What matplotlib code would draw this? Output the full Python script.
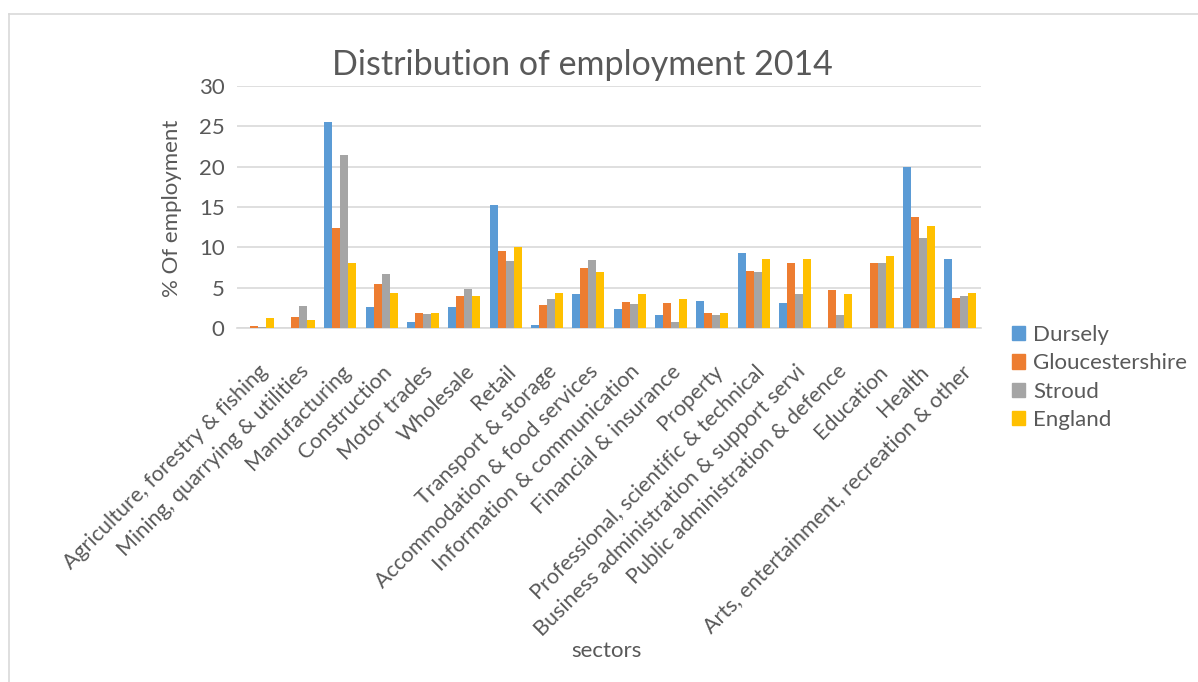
import matplotlib
matplotlib.use("Agg")
import matplotlib.pyplot as plt
import numpy as np
from matplotlib.lines import Line2D
from matplotlib.patches import Rectangle

plt.rcParams['font.family'] = ['Lato', 'DejaVu Sans']

sectors = ["Agriculture, forestry & fishing", "Mining, quarrying & utilities",
           "Manufacturing", "Construction", "Motor trades", "Wholesale", "Retail",
           "Transport & storage", "Accommodation & food services",
           "Information & communication", "Financial & insurance", "Property",
           "Professional, scientific & technical",
           "Business administration & support servi",
           "Public administration & defence", "Education", "Health",
           "Arts, entertainment, recreation & other"]

dursely = [0.0, 0.0, 25.5, 2.6, 0.7, 2.6, 15.3, 0.4, 4.2, 2.4, 1.6, 3.4, 9.3, 3.1, 0.0, 0.0, 19.9, 8.5]
gloucestershire = [0.3, 1.4, 12.4, 5.4, 1.9, 4.0, 9.6, 2.9, 7.5, 3.2, 3.1, 1.9, 7.1, 8.0, 4.7, 8.1, 13.8, 3.7]
stroud = [0.1, 2.7, 21.4, 6.7, 1.7, 4.8, 8.3, 3.6, 8.4, 3.0, 0.7, 1.6, 6.9, 4.2, 1.6, 8.1, 11.1, 4.0]
england = [1.2, 1.0, 8.0, 4.4, 1.8, 4.0, 10.0, 4.4, 7.0, 4.2, 3.6, 1.8, 8.6, 8.6, 4.2, 8.9, 12.7, 4.4]

series_names = ["Dursely", "Gloucestershire", "Stroud", "England"]
colors = ["#5B9BD5", "#ED7D31", "#A5A5A5", "#FFC000"]
yticks = [0, 5, 10, 15, 20, 25, 30]

TXT = "#595959"
FS = 16
W, H = 1198, 682
fig = plt.figure(figsize=(W / 100, H / 100), dpi=100)
ax = fig.add_axes([237 / W, 1 - 328 / H, (981 - 237) / W, (328 - 86) / H])

x = np.arange(len(sectors))
bw = 0.195
for i, (vals, c, name) in enumerate(zip([dursely, gloucestershire, stroud, england], colors, series_names)):
    ax.bar(x + (i - 1.5) * bw, vals, width=bw, color=c, label=name, zorder=3)

ax.set_xlim(-0.5, len(sectors) - 0.5)
ax.set_ylim(0, 30)
ax.set_yticks(yticks)
ax.set_yticklabels([str(t) for t in yticks], fontsize=FS, color=TXT)
ax.yaxis.grid(True, color="#D9D9D9", linewidth=1.2, zorder=0)
ax.tick_params(axis='both', length=0)
ax.tick_params(axis='y', pad=9)
for s in ["top", "right", "left"]:
    ax.spines[s].set_visible(False)
ax.spines["bottom"].set_color("#D9D9D9")
ax.spines["bottom"].set_linewidth(1.2)

ax.set_xticks(x)
ax.set_xticklabels(sectors, rotation=45, ha="right", rotation_mode="anchor",
                   fontsize=15.5, color=TXT)
ax.tick_params(axis='x', pad=24)

fig.text(172 / W, 1 - 208 / H, "% Of employment", rotation=90, ha="center", va="center",
         fontsize=FS, color=TXT)
fig.text(606 / W, 1 - 651 / H, "sectors", ha="center", va="center", fontsize=FS, color=TXT)
fig.text(582 / W, 1 - 65 / H, "Distribution of employment 2014", ha="center", va="center",
         fontsize=24.5, color=TXT)

handles = [Rectangle((0, 0), 1, 1, color=c) for c in colors]
fig.legend(handles, series_names, loc="upper left", bbox_to_anchor=(1003 / W, 1 - 316 / H),
           frameon=False, fontsize=FS, handlelength=0.6, handleheight=0.6,
           handletextpad=0.35, labelspacing=0.38, labelcolor=TXT, borderaxespad=0)

fig.add_artist(Line2D([9 / W, 9 / W], [0, 1 - 14 / H], color="#D9D9D9", linewidth=1.2))
fig.add_artist(Line2D([9 / W, 1], [1 - 14 / H, 1 - 14 / H], color="#D9D9D9", linewidth=1.2))

fig.savefig("out.png", dpi=100, facecolor="white")
